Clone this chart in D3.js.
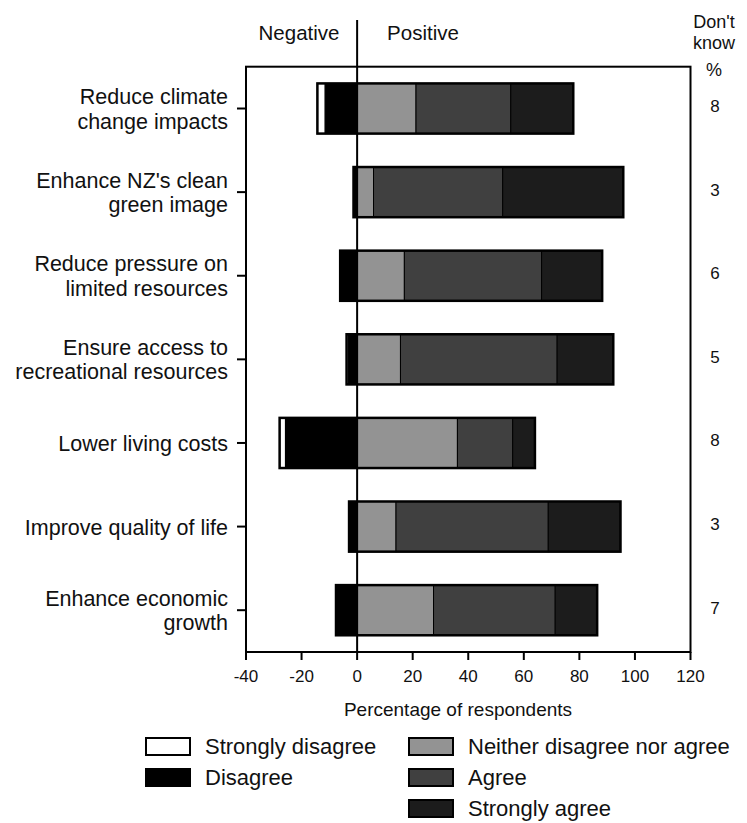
<!DOCTYPE html>
<html>
<head>
<meta charset="utf-8">
<script src="https://cdn.jsdelivr.net/npm/d3@7"></script>
<style>
  html, body { margin: 0; padding: 0; background: #fff; }
  svg text { font-family: "Liberation Sans", Arial, sans-serif; fill: #111; }
</style>
</head>
<body>
<svg id="chart" width="747" height="823"></svg>
<script>
const categories = [
  ["Reduce climate", "change impacts"],
  ["Enhance NZ's clean", "green image"],
  ["Reduce pressure on", "limited resources"],
  ["Ensure access to", "recreational resources"],
  ["Lower living costs"],
  ["Improve quality of life"],
  ["Enhance economic", "growth"]
];
const stronglyDisagree = [2.8, 0, 0, 0.6, 2.1, 0, 0];
const disagree         = [11.5, 1.3, 6.1, 3.2, 25.8, 2.9, 7.6];
const neither          = [21.2, 5.9, 17.0, 15.6, 36.1, 14.0, 27.5];
const agree            = [34.1, 46.5, 49.4, 56.4, 19.9, 54.8, 43.8];
const stronglyAgree    = [22.5, 43.4, 21.8, 20.2, 8.0, 26.0, 15.1];
const dontKnow         = [8, 3, 6, 5, 8, 3, 7];
const xTicks = [-40, -20, 0, 20, 40, 60, 80, 100, 120];
const legendLabels = ["Strongly disagree", "Disagree", "Neither disagree nor agree", "Agree", "Strongly agree"];

(function () {
const colors = {
  sd: "#ffffff", d: "#000000", n: "#939393", a: "#404040", sa: "#1c1c1c"
};

const svg = d3.select("#chart");
const pL = 246, pR = 690.5, pT = 66.7, pB = 652;

const x = d3.scaleLinear().domain([-40, 120]).range([pL, pR]);
const ids = categories.map((c, i) => i);
const y = d3.scaleBand().domain(ids).range([pT, pB]).paddingInner(0.4).paddingOuter(0.2);
const yc = i => y(i) + y.bandwidth() / 2;

const rows = ids.map(i => {
  const negEnd = -(stronglyDisagree[i] + disagree[i]);
  const segs = [
    {k: "sd", x0: negEnd, x1: -disagree[i]},
    {k: "d", x0: -disagree[i], x1: 0},
    {k: "n", x0: 0, x1: neither[i]},
    {k: "a", x0: neither[i], x1: neither[i] + agree[i]},
    {k: "sa", x0: neither[i] + agree[i], x1: neither[i] + agree[i] + stronglyAgree[i]}
  ].filter(s => s.x1 - s.x0 > 0);
  return {i, segs, start: negEnd, end: neither[i] + agree[i] + stronglyAgree[i]};
});

svg.append("rect")
  .attr("x", pL).attr("y", pT)
  .attr("width", pR - pL).attr("height", pB - pT)
  .attr("fill", "none").attr("stroke", "#000").attr("stroke-width", 2);

const g = svg.append("g");
rows.forEach(r => {
  const row = g.append("g");
  row.selectAll("rect.seg").data(r.segs).join("rect")
    .attr("class", "seg")
    .attr("x", s => x(s.x0)).attr("width", s => x(s.x1) - x(s.x0))
    .attr("y", y(r.i)).attr("height", y.bandwidth())
    .attr("fill", s => colors[s.k])
    .attr("stroke", "#000").attr("stroke-width", 1);
  row.append("rect")
    .attr("x", x(r.start)).attr("width", x(r.end) - x(r.start))
    .attr("y", y(r.i)).attr("height", y.bandwidth())
    .attr("fill", "none").attr("stroke", "#000").attr("stroke-width", 2.5);
});

svg.append("line")
  .attr("x1", x(0)).attr("x2", x(0))
  .attr("y1", 20).attr("y2", pB)
  .attr("stroke", "#000").attr("stroke-width", 2);

svg.append("g").selectAll("line").data(ids).join("line")
  .attr("x1", pL - 9).attr("x2", pL)
  .attr("y1", yc).attr("y2", yc)
  .attr("stroke", "#000").attr("stroke-width", 2);

const lab = svg.append("g").selectAll("text").data(ids).join("text")
  .attr("text-anchor", "end")
  .attr("font-size", 21.5);
lab.each(function(i) {
  const lines = categories[i];
  const n = lines.length;
  d3.select(this).selectAll("tspan").data(lines).join("tspan")
    .attr("x", 228)
    .attr("y", (l, j) => n === 1 ? yc(i) + 8 : yc(i) - 4.5 + j * 24.5)
    .text(l => l);
});

svg.append("g").selectAll("line").data(xTicks).join("line")
  .attr("x1", d => x(d)).attr("x2", d => x(d))
  .attr("y1", pB).attr("y2", pB + 8)
  .attr("stroke", "#000").attr("stroke-width", 2);
svg.append("g").selectAll("text").data(xTicks).join("text")
  .attr("x", d => x(d)).attr("y", 682)
  .attr("text-anchor", "middle").attr("font-size", 17)
  .text(d => d);

svg.append("text")
  .attr("x", 458).attr("y", 716)
  .attr("text-anchor", "middle").attr("font-size", 19)
  .text("Percentage of respondents");

svg.append("text").attr("x", 299).attr("y", 40).attr("text-anchor", "middle").attr("font-size", 20.5).text("Negative");
svg.append("text").attr("x", 423).attr("y", 40).attr("text-anchor", "middle").attr("font-size", 20.5).text("Positive");
const dk = svg.append("text").attr("text-anchor", "middle").attr("font-size", 18);
[["Don't", 28], ["know", 49], ["%", 76]].forEach(([t, yy]) => {
  dk.append("tspan").attr("x", 714).attr("y", yy).text(t);
});

svg.append("g").selectAll("text").data(ids).join("text")
  .attr("x", 715).attr("y", i => yc(i) + 3.5)
  .attr("text-anchor", "middle").attr("font-size", 17)
  .text(i => dontKnow[i]);

const legendPos = [
  {k: "sd", bx: 146, by: 738}, {k: "d", bx: 146, by: 769},
  {k: "n", bx: 409, by: 738}, {k: "a", bx: 409, by: 769}, {k: "sa", bx: 409, by: 800}
];
const lg = svg.append("g").selectAll("g").data(legendPos).join("g");
lg.append("rect")
  .attr("x", d => d.bx).attr("y", d => d.by)
  .attr("width", 44).attr("height", 17)
  .attr("fill", d => colors[d.k]).attr("stroke", "#000").attr("stroke-width", 2);
lg.append("text")
  .attr("x", d => d.bx + 59).attr("y", d => d.by + 16)
  .attr("font-size", 22)
  .text((d, i) => legendLabels[i]);
})();
</script>
</body>
</html>
